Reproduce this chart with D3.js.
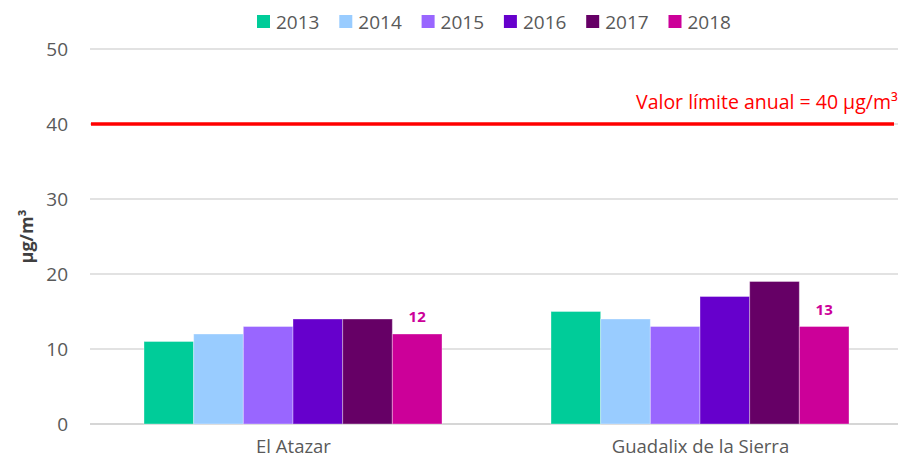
<!DOCTYPE html>
<html>
<head>
<meta charset="utf-8">
<script src="https://cdn.jsdelivr.net/npm/d3@7"></script>
<style>
  body { margin: 0; background: #fff; }
  svg { display: block; font-family: "Open Sans", "DejaVu Sans", sans-serif; }
</style>
</head>
<body>
<div id="chart"></div>
<script>
const stations = ["El Atazar", "Guadalix de la Sierra"];
const years = ["2013", "2014", "2015", "2016", "2017", "2018"];
const colors = ["#00CC99", "#99CCFF", "#9966FF", "#6600CC", "#660066", "#CC0099"];
// values per year, one entry per station
const values = {
  "2013": [11, 15],
  "2014": [12, 14],
  "2015": [13, 13],
  "2016": [14, 17],
  "2017": [14, 19],
  "2018": [12, 13]
};
const yTicks = [0, 10, 20, 30, 40, 50];
const limitValue = 40;
const limitLabel = "Valor límite anual = 40 µg/m³";
const labelledYear = "2018";

const width = 898, height = 459;
const svg = d3.select("#chart").append("svg").attr("width", width).attr("height", height);

const x0 = d3.scaleBand().domain(stations).range([90, 904]).paddingInner(0).paddingOuter(0);
const x1 = d3.scaleBand().domain(years).range([54, x0.bandwidth() - 55]);
const y = d3.scaleLinear().domain([0, 50]).range([424, 49]);
const color = d3.scaleOrdinal().domain(years).range(colors);

// gridlines
svg.append("g").selectAll("line").data(yTicks).join("line")
  .attr("x1", 90).attr("x2", 898)
  .attr("y1", d => y(d)).attr("y2", d => y(d))
  .attr("stroke", d => d === 0 ? "#c8c8c8" : "#d9d9d9").attr("stroke-width", 1.3);

// y axis labels
const yAxis = svg.append("g").attr("transform", "translate(90,0)")
  .call(d3.axisLeft(y).tickValues(yTicks).tickSize(0).tickPadding(22));
yAxis.select(".domain").remove();
yAxis.selectAll("text").attr("font-size", 19).attr("fill", "#595959")
  .attr("font-family", "Open Sans");

svg.append("text")
  .attr("transform", `translate(33,${y(25)}) rotate(-90)`)
  .attr("text-anchor", "middle").attr("font-size", 18).attr("font-weight", "bold")
  .attr("fill", "#404040").text("µg/m³");

// bars
const groups = svg.append("g").selectAll("g").data(stations).join("g")
  .attr("transform", d => `translate(${x0(d)},0)`);
groups.selectAll("rect").data((s, i) => years.map(yr => ({ yr, v: values[yr][i] })))
  .join("rect")
  .attr("x", d => x1(d.yr)).attr("width", x1.bandwidth())
  .attr("y", d => y(d.v)).attr("height", d => y(0) - y(d.v))
  .attr("fill", d => color(d.yr))
  .attr("stroke", "#ffffff").attr("stroke-opacity", 0.35).attr("stroke-width", 1);

groups.selectAll("text.val").data((s, i) => [{ yr: labelledYear, v: values[labelledYear][i] }])
  .join("text").attr("class", "val")
  .attr("x", d => x1(d.yr) + x1.bandwidth() / 2)
  .attr("y", d => y(d.v) - 12)
  .attr("text-anchor", "middle").attr("font-size", 15).attr("font-weight", "bold")
  .attr("fill", color(labelledYear)).text(d => d.v);

// limit line
svg.append("line")
  .attr("x1", 91).attr("x2", 894)
  .attr("y1", y(limitValue)).attr("y2", y(limitValue))
  .attr("stroke", "#FF0000").attr("stroke-width", 3.5);
svg.append("text").attr("x", 636).attr("y", y(limitValue) - 15)
  .attr("font-size", 19.5).attr("fill", "#FF0000").text(limitLabel);

// category labels
svg.append("g").selectAll("text").data(stations).join("text")
  .attr("x", d => x0(d) + x0.bandwidth() / 2).attr("y", 453)
  .attr("text-anchor", "middle").attr("font-size", 18.5).attr("fill", "#595959")
  .text(d => d);

// legend
const legend = svg.append("g").selectAll("g").data(years).join("g")
  .attr("transform", (d, i) => `translate(${257 + i * 82.3},15)`);
legend.append("rect").attr("width", 13).attr("height", 13).attr("fill", d => color(d));
legend.append("text").attr("x", 19).attr("y", 14).attr("font-size", 19)
  .attr("fill", "#595959").text(d => d);
</script>
</body>
</html>
